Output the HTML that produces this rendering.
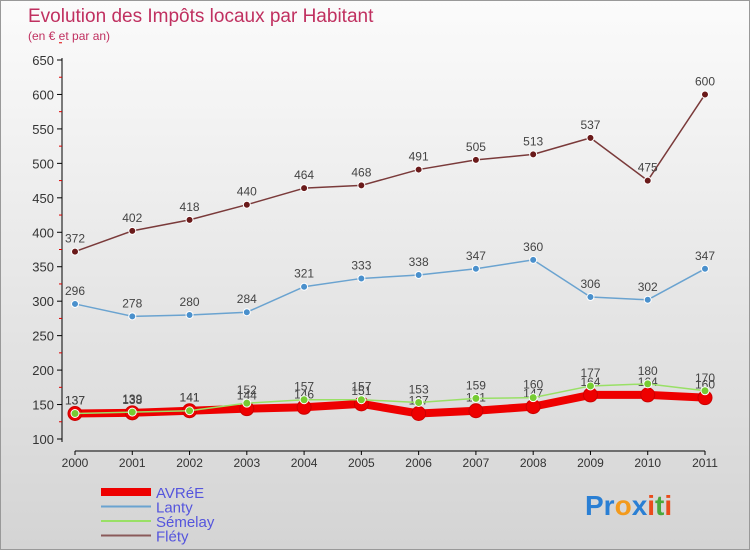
<!DOCTYPE html>
<html><head><meta charset="utf-8"><style>
body{margin:0}
#wrap{width:748px;height:548px;border:1px solid #999;background:linear-gradient(#fbfbfb,#d4d4d4);position:relative;font-family:"Liberation Sans",sans-serif;overflow:hidden}
</style></head><body>
<div id="wrap">
<svg id="c" width="750" height="550" style="position:absolute;left:-1px;top:-1px">
<text x="28" y="22" font-size="19" fill="#c03060">Evolution des Impôts locaux par Habitant</text>
<text x="28" y="40" font-size="12" fill="#c03060">(en € et par an)</text>
<text x="585" y="515" font-size="28" font-weight="bold"><tspan fill="#2a7fd4">Pr</tspan><tspan fill="#f39a1c">o</tspan><tspan fill="#2a7fd4">x</tspan><tspan fill="#e94b1b">i</tspan><tspan fill="#4aa83a">t</tspan><tspan fill="#e94b1b">i</tspan></text>
</svg>
</div>
<script>
const years=[2000,2001,2002,2003,2004,2005,2006,2007,2008,2009,2010,2011];
const yTicks=[100,150,200,250,300,350,400,450,500,550,600,650];
const avree=[137,138,141,144,146,151,137,141,147,164,164,160];
const lanty=[296,278,280,284,321,333,338,347,360,306,302,347];
const semelay=[137,139,141,152,157,157,153,159,160,177,180,170];
const flety=[372,402,418,440,464,468,491,505,513,537,475,600];
const NS="http://www.w3.org/2000/svg";
const svg=document.getElementById('c');
const X=i=>75+i*(630/11);
const Y=v=>439-(v-100)*(379/550);
function mk(t,a,p){const e=document.createElementNS(NS,t);for(const k in a)e.setAttribute(k,a[k]);(p||svg).appendChild(e);return e;}
// axes
let ax=mk('line',{x1:62,y1:58,x2:62,y2:442,stroke:'#000'});


let xa=mk('line',{x1:75,y1:451,x2:705,y2:451,stroke:'#000'});


yTicks.forEach(v=>{
 mk('line',{x1:57,y1:Y(v),x2:62,y2:Y(v),stroke:'#000'});
 mk('line',{x1:59,y1:Y(v+25),x2:62,y2:Y(v+25),stroke:'#d00'});
 const t=mk('text',{x:54,y:Y(v)+5,'text-anchor':'end','font-size':13,fill:'#333'});t.textContent=v;
 
 
});
years.forEach((y,i)=>{
 mk('line',{x1:X(i),y1:451,x2:X(i),y2:455,stroke:'#000'});
 const t=mk('text',{x:X(i),y:467,'text-anchor':'middle','font-size':12,fill:'#333'});t.textContent=y;
 
 
});
function series(name,data,col,w,r,dot,dotStroke){
 const g=mk('g',{});
 
 
 mk('polyline',{points:data.map((v,i)=>X(i)+','+Y(v)).join(' '),fill:'none',stroke:col,'stroke-width':w,'stroke-linejoin':'round'},g);
 data.forEach((v,i)=>{
  const c=mk('circle',{cx:X(i),cy:Y(v),r:r,fill:dot,stroke:dotStroke,'stroke-width':1},g);
  
  
  const t=mk('text',{x:X(i),y:Y(v)-9,'text-anchor':'middle','font-size':12,fill:'#444'},g);t.textContent=v;
  
  
 });
}
series('flety',flety,'#7a3a3a',1.5,3.5,'#6a1a1a','#fff');
series('lanty',lanty,'#6aa3d0',1.5,3.5,'#4a90cc','#fff');
series('avree',avree,'#ee0000',8,7,'#ee0000','#c00');
series('semelay',semelay,'#99e066',1.5,4,'#77cc33','#fff');
const leg=[['AVRéE','#ee0000',8],['Lanty','#6aa3d0',2],['Sémelay','#99e066',2],['Fléty','#8a5a5a',2]];
leg.forEach((l,i)=>{
 const y=492+i*14.5;
 const ln=mk('line',{x1:101,y1:y,x2:151,y2:y,stroke:l[1],'stroke-width':l[2]});
 
 
 const t=mk('text',{x:156,y:y+6,'font-size':15,fill:'#5555dd'});t.textContent=l[0];
 
 
});
</script>
</body></html>
